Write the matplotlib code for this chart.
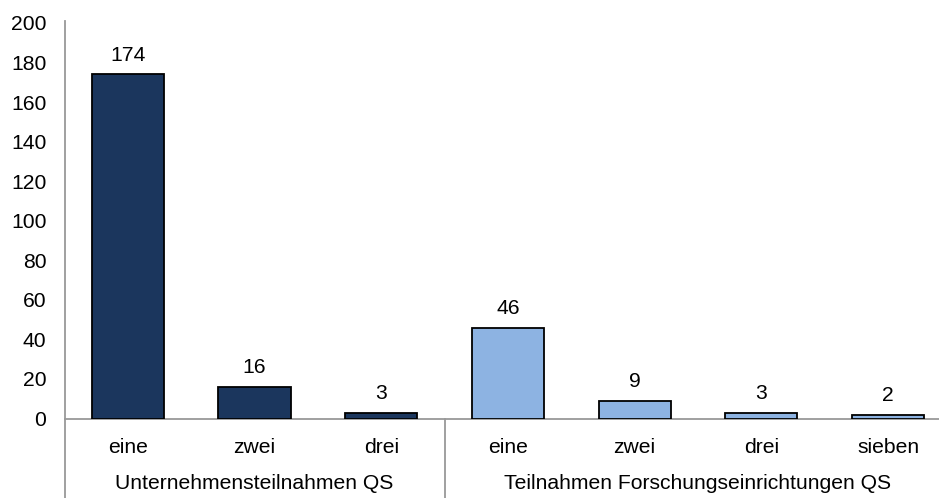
import numpy as np
import matplotlib
matplotlib.use("Agg")
from matplotlib import pyplot as plt
from matplotlib.lines import Line2D

plt.rcParams['font.family'] = ['Liberation Sans', 'DejaVu Sans']

## Data
categories = ["eine", "zwei", "drei", "eine", "zwei", "drei", "sieben"]
values = [174, 16, 3, 46, 9, 3, 2]
groups = ["Unternehmensteilnahmen QS", "Teilnahmen Forschungseinrichtungen QS"]
group_sizes = [3, 4]
group_colors = ["#1b365d", "#8db3e2"]
yticks = [0, 20, 40, 60, 80, 100, 120, 140, 160, 180, 200]

W, H = 939, 498
fs = 15.2
fig = plt.figure(figsize=(W / 100, H / 100), dpi=100)

# axes geometry in pixels
x0, slot = 64.5, 126.7
y0, ytop = 418.5, 23
ax = fig.add_axes([x0 / W, (H - y0) / H, 7 * slot / W, (y0 - ytop) / H])

colors = []
for c, n in zip(group_colors, group_sizes):
    colors += [c] * n

x = np.arange(len(values))
ax.bar(x, values, width=0.57, color=colors, edgecolor="black", linewidth=1.3, zorder=3)

for xi, v in zip(x, values):
    ax.annotate(str(v), (xi, v), xytext=(0, 7), textcoords="offset points",
                ha="center", va="bottom", fontsize=fs)

ax.set_xlim(-0.5, len(values) - 0.5)
ax.set_ylim(0, 200)
ax.set_yticks(yticks)
ax.tick_params(axis="y", length=0, labelsize=fs, pad=13)
ax.set_xticks([])

for s in ["top", "right"]:
    ax.spines[s].set_visible(False)
grey = "#999999"
ax.spines["left"].set_color(grey)
ax.spines["bottom"].set_color(grey)
ax.spines["left"].set_linewidth(1.3)
ax.spines["bottom"].set_linewidth(1.3)
ax.spines["left"].set_bounds(0, 201)

# category labels and group labels below axis
trans = ax.get_xaxis_transform()
cat_y = -(447 - y0) / (y0 - ytop)
grp_y = -(483 - y0) / (y0 - ytop)
bot_y = -(H - y0) / (y0 - ytop)
for xi, c in zip(x, categories):
    ax.text(xi, cat_y, c, transform=trans, ha="center", va="center", fontsize=fs)

start = 0
bounds = [-0.5]
for g, n in zip(groups, group_sizes):
    ax.text(start + (n - 1) / 2, grp_y, g, transform=trans, ha="center", va="center", fontsize=fs)
    start += n
    bounds.append(start - 0.5)

for b in bounds[:-1]:
    ax.add_line(Line2D([b, b], [0, bot_y], transform=trans, color=grey,
                       linewidth=1.3, clip_on=False))

fig.savefig("out.png", dpi=100)
